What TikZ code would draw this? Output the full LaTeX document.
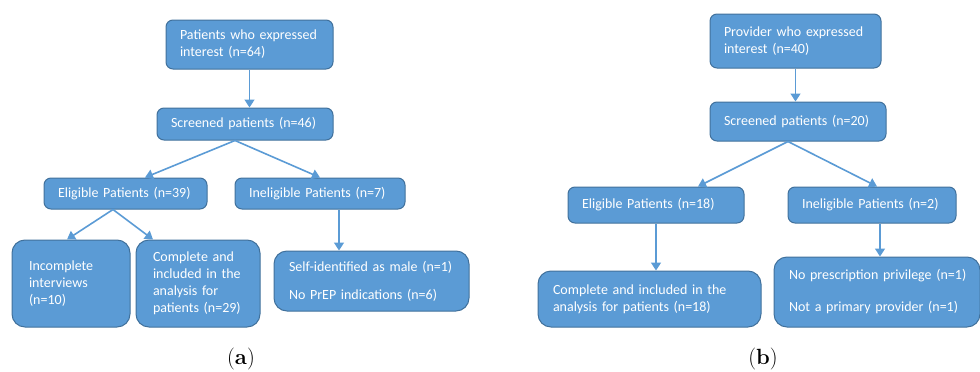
\documentclass[tikz,border=0pt]{standalone}
\usepackage{fontspec}
\setmainfont{Carlito}
\newfontfamily\capfont{Latin Modern Roman}
\usepackage{xcolor}
\usetikzlibrary{arrows.meta,positioning,calc}
\definecolor{boxfill}{HTML}{5B9BD5}
\definecolor{boxline}{HTML}{41719C}

\begin{document}
\begin{tikzpicture}[
    x=1pt, y=-1pt,
    blk/.style={draw=boxline, line width=1pt, fill=boxfill, rounded corners=7pt, text=white,
        align=left, inner xsep=14pt, inner ysep=2pt,
        font=\fontsize{14}{17}\selectfont},
    bigblk/.style={blk, rounded corners=13pt, inner xsep=17pt},
    arr/.style={-{Triangle[length=8pt, width=10pt]}, draw=boxfill, line width=1.6pt},
    captxt/.style={font=\capfont\fontsize{22}{24}\selectfont},
]
    \useasboundingbox (0,0) rectangle (980,372);

    % Panel (a): patients
    \node[blk, text width=139pt, minimum height=49pt] (ta) at (249.5, 44.5) {Patients who expressed\\interest (n=64)};
    \node[blk, text width=148pt, minimum height=32pt] (sa) at (245, 124) {Screened patients (n=46)};
    \node[blk, text width=135pt, minimum height=31pt] (ea) at (125.5, 193.5) {Eligible Patients (n=39)};
    \node[blk, text width=142pt, minimum height=31pt] (ia) at (320, 193.5) {Ineligible Patients (n=7)};
    \node[bigblk, text width=84pt, minimum height=87pt] (inca) at (71, 283.5) {Incomplete\\interviews\\(n=10)\\[6pt]};
    \node[bigblk, text width=90pt, minimum height=87pt] (coma) at (198, 283.5) {Complete and\\included in the\\analysis for\\patients (n=29)};
    \node[bigblk, inner xsep=15pt, text width=165pt, minimum height=60pt] (exa) at (371.5, 281) {Self-identified as male (n=1)\\[11pt]No PrEP indications (n=6)};

    % Panel (b): providers
    \node[blk, text width=143pt, minimum height=54pt] (tb) at (795.5, 41) {Provider who expressed\\interest (n=40)};
    \node[blk, text width=148pt, minimum height=39pt] (sb) at (798, 121.5) {Screened patients (n=20)};
    \node[blk, text width=148pt, minimum height=36pt] (eb) at (656, 205) {Eligible Patients (n=18)};
    \node[blk, text width=140pt, minimum height=36pt] (ib) at (872, 205) {Ineligible Patients (n=2)};
    \node[bigblk, inner xsep=15pt, text width=193pt, minimum height=56pt] (cb) at (649.5, 299) {Complete and included in the\\analysis for patients (n=18)};
    \node[bigblk, inner xsep=15pt, text width=176pt, minimum height=70pt] (xb) at (877, 292) {\mbox{No prescription privilege (n=1)}\\[15pt]Not a primary provider (n=1)};

    % Captions
    \node[captxt] (capa) at (241, 359) {(\textbf{a})};
    \node[captxt] (capb) at (763, 359) {(\textbf{b})};

    % Arrows (a)
    \draw[arr] (ta.south) -- (ta.south |- sa.north);
    \draw[arr] ([xshift=-10pt]sa.south) -- ([xshift=19.5pt]ea.north);
    \draw[arr] ([xshift=-10pt]sa.south) -- (ia.north);
    \draw[arr] ([xshift=-12.5pt]ea.south) -- ([xshift=-4pt]inca.north);
    \draw[arr] ([xshift=-12.5pt]ea.south) -- ([xshift=-45pt]coma.north);
    \draw[arr] ([xshift=19pt]ia.south) -- ([xshift=19pt]ia.south |- exa.north);

    % Arrows (b)
    \draw[arr] (tb.south) -- (tb.south |- sb.north);
    \draw[arr] ([xshift=-10pt]sb.south) -- ([xshift=42pt]eb.north);
    \draw[arr] ([xshift=-10pt]sb.south) -- ([xshift=5pt]ib.north);
    \draw[arr] (eb.south) -- (eb.south |- cb.north);
    \draw[arr] ([xshift=8pt]ib.south) -- ([xshift=8pt]ib.south |- xb.north);
\end{tikzpicture}
\end{document}
